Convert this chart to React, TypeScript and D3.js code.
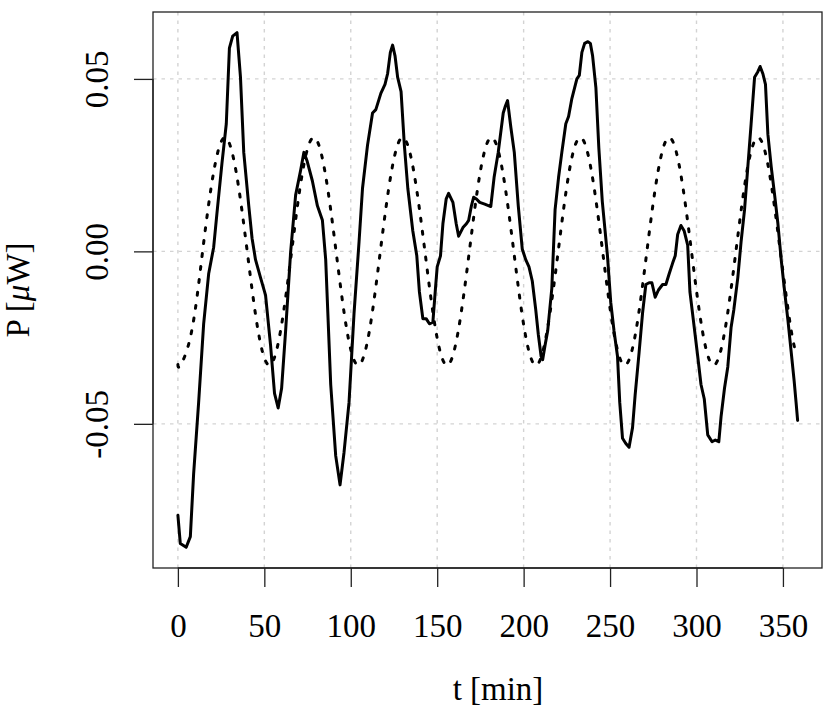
import React, { useEffect, useRef } from 'react';
import * as d3 from 'd3';

const solidT = [
  0, 1.4, 4.8, 7.2, 9.1, 12, 14.9, 17.8, 20.7, 22.6, 25.5, 28, 29.8, 31.7, 34.2, 36.2, 38.1, 41, 42.9, 44.9,
  47.8, 50.7, 53.6, 55.9, 58, 60, 62.3, 65.2, 68.1, 71, 72.9, 74.8, 77.8, 80.7, 83.6, 85.5, 88.4, 91.3, 93.8, 96.1,
  99, 101.9, 104.8, 106.8, 109.7, 112.6, 114.5, 117.4, 119.8, 121.3, 122.9, 124.2, 125.6, 127.1, 129.1, 131, 133, 135.9, 138.2, 139.7,
  141.7, 143.6, 145.5, 147.5, 149, 150, 151.9, 153.3, 155.2, 156.6, 159.1, 161, 162.4, 164.9, 166.9, 168.2, 169.8, 171.1, 172.7, 174.6,
  177.5, 181, 182.9, 185.3, 188.2, 189.5, 190.7, 192.6, 194.6, 196.9, 199.2, 201.2, 203.1, 205, 207, 208.5, 210.1, 211, 212.4, 213.9,
  216.3, 218.2, 220.2, 222.1, 224.4, 226, 227.9, 230.8, 232.2, 233.7, 235.3, 237.2, 238.6, 239.9, 241.8, 243.5, 245.5, 248.5, 250.4, 252.3,
  254.3, 255.6, 257.2, 259.1, 261, 263, 264.5, 266.8, 268.8, 270.7, 272.6, 274.2, 276.1, 278, 280.4, 282.3, 284.2, 286.2, 287.7, 289.1,
  291, 292.9, 294.9, 296.2, 298.2, 300.7, 302.6, 304.5, 306.5, 309, 310.9, 312.9, 314.2, 316.2, 318.1, 320, 321.6, 323.9, 325.8, 327.8,
  329.7, 331.6, 333.6, 335.5, 336.8, 338.4, 339.9, 341.3, 343.2, 345.2, 347.1, 349, 351, 352.9, 354.8, 356.5, 357.6, 358.5,
];
const solidP = [
  -0.0765, -0.0847, -0.0858, -0.0827, -0.0645, -0.0438, -0.021, -0.0065, 0.0012, 0.0111, 0.0256, 0.037, 0.0589, 0.0624, 0.0634, 0.0505, 0.0287, 0.0132, 0.0038, -0.0024,
  -0.0076, -0.0127, -0.0272, -0.0412, -0.0454, -0.0397, -0.0231, -0.0003, 0.0163, 0.0235, 0.0287, 0.0261, 0.0204, 0.0132, 0.009, -0.0024, -0.0386, -0.0593, -0.0677, -0.0583,
  -0.0438, -0.0179, 0.0028, 0.0183, 0.0308, 0.0401, 0.0411, 0.0458, 0.0484, 0.0515, 0.0577, 0.0598, 0.0567, 0.0505, 0.0463, 0.0308, 0.0183, 0.0059, -0.0013, -0.0117,
  -0.0195, -0.0195, -0.021, -0.0205, -0.0107, -0.0045, -0.0013, 0.008, 0.0152, 0.0168, 0.0142, 0.008, 0.0044, 0.0069, 0.008, 0.009, 0.0132, 0.0157, 0.0152, 0.0142,
  0.0137, 0.013, 0.0214, 0.0287, 0.0401, 0.0422, 0.0437, 0.036, 0.0287, 0.0132, 0.0007, -0.0024, -0.0045, -0.0086, -0.0169, -0.0241, -0.0304, -0.0314, -0.0272, -0.0231,
  -0.0107, 0.0121, 0.0214, 0.0287, 0.037, 0.0391, 0.0443, 0.05, 0.051, 0.0577, 0.0603, 0.0608, 0.0603, 0.0567, 0.0475, 0.03, 0.0145, -0.0013, -0.0148, -0.0231,
  -0.0304, -0.0438, -0.0542, -0.0557, -0.0568, -0.0511, -0.0417, -0.0293, -0.0179, -0.0096, -0.0091, -0.0091, -0.0133, -0.0112, -0.0096, -0.0096, -0.0065, -0.0034, -0.0013, 0.0049,
  0.0075, 0.0059, 0.0018, -0.0117, -0.02, -0.0304, -0.0386, -0.0428, -0.0532, -0.0552, -0.0547, -0.0552, -0.048, -0.0397, -0.0335, -0.0221, -0.0169, -0.0076, 0.0028, 0.0121,
  0.0246, 0.037, 0.0505, 0.0521, 0.0536, 0.0515, 0.0484, 0.0339, 0.0246, 0.0163, 0.008, -0.0024, -0.0117, -0.02, -0.0293, -0.0376, -0.0438, -0.049,
];

// reference oscillation (dotted line)
const refT = [
  0, 1.5, 7.9, 14.3, 20.8, 27.2, 33.6, 40.1, 46.5, 52.9, 59.3, 65.8, 72.2, 78.6, 85.0, 91.5, 97.9, 104.3, 110.7, 117.1,
  123.6, 130.0, 136.4, 142.9, 149.3, 155.7, 162.1, 168.6, 175.0, 181.4, 187.8, 194.3, 200.7, 207.1, 213.5, 220.0, 226.4, 232.8, 239.2, 245.7,
  252.1, 258.5, 264.9, 271.3, 277.8, 284.2, 290.6, 297.1, 303.5, 309.9, 316.3, 322.8, 329.2, 335.6, 342.0, 348.5, 354.9, 358.5,
];
const refP = [
  -0.0328, -0.033, -0.0233, 0, 0.0233, 0.033, 0.0233, 0, -0.0233, -0.033, -0.0233, 0, 0.0233, 0.033, 0.0233, 0, -0.0233, -0.033, -0.0233, 0,
  0.0233, 0.033, 0.0233, 0, -0.0233, -0.033, -0.0233, 0, 0.0233, 0.033, 0.0233, 0, -0.0233, -0.033, -0.0233, 0, 0.0233, 0.033, 0.0233, 0,
  -0.0233, -0.033, -0.0233, 0, 0.0233, 0.033, 0.0233, 0, -0.0233, -0.033, -0.0233, 0, 0.0233, 0.033, 0.0233, 0, -0.0233, -0.0302,
];

const xTicks = [0, 50, 100, 150, 200, 250, 300, 350];
const yTicks = [-0.05, 0, 0.05];
const yTickLabels = ['-0.05', '0.00', '0.05'];

const FONT = '"Liberation Serif", "DejaVu Serif", serif';

const App: React.FC = () => {
  const chartRef = useRef<SVGSVGElement | null>(null);

  useEffect(() => {
    if (!chartRef.current) return;

    const width = 831;
    const height = 717;
    const box = { left: 153, right: 822, top: 12, bottom: 568 };

    const svg = d3.select(chartRef.current)
      .attr('width', width)
      .attr('height', height)
      .attr('viewBox', `0 0 ${width} ${height}`);

    svg.selectAll('*').remove();

    svg.append('rect')
      .attr('width', width)
      .attr('height', height)
      .attr('fill', '#fff');

    const x = d3.scaleLinear().domain([-14.4, 372.6]).range([box.left, box.right]);
    const y = d3.scaleLinear().domain([-0.0918, 0.0694]).range([box.bottom, box.top]);

    // grid
    const grid = svg.append('g')
      .attr('stroke', '#d3d3d3')
      .attr('stroke-width', 1.4)
      .attr('stroke-dasharray', '3.5,5');
    grid.selectAll('line.v')
      .data(xTicks)
      .join('line')
      .attr('class', 'v')
      .attr('x1', d => x(d)).attr('x2', d => x(d))
      .attr('y1', box.top).attr('y2', box.bottom);
    grid.selectAll('line.h')
      .data(yTicks)
      .join('line')
      .attr('class', 'h')
      .attr('x1', box.left).attr('x2', box.right)
      .attr('y1', d => y(d)).attr('y2', d => y(d));

    // series
    const solidLine = d3.line<number>()
      .x((_, i) => x(solidT[i]))
      .y(d => y(d));
    svg.append('path')
      .attr('d', solidLine(solidP))
      .attr('fill', 'none')
      .attr('stroke', '#000')
      .attr('stroke-width', 3)
      .attr('stroke-linejoin', 'round')
      .attr('stroke-linecap', 'round');

    const refLine = d3.line<number>()
      .x((_, i) => x(refT[i]))
      .y(d => y(d))
      .curve(d3.curveNatural);
    svg.append('path')
      .attr('d', refLine(refP))
      .attr('fill', 'none')
      .attr('stroke', '#000')
      .attr('stroke-width', 3)
      .attr('stroke-dasharray', '3,10')
      .attr('stroke-linecap', 'round');

    // box
    svg.append('rect')
      .attr('x', box.left)
      .attr('y', box.top)
      .attr('width', box.right - box.left)
      .attr('height', box.bottom - box.top)
      .attr('fill', 'none')
      .attr('stroke', '#222')
      .attr('stroke-width', 1.3);

    // x axis
    svg.append('g')
      .attr('transform', `translate(0,${box.bottom})`)
      .call(d3.axisBottom(x).tickValues(xTicks).tickSize(19).tickFormat(d => String(d)))
      .call(g => g.select('.domain').attr('d', `M${x(0)},0H${x(350)}`).attr('stroke', '#222').attr('stroke-width', 1.3))
      .call(g => g.selectAll('.tick line').attr('stroke', '#222').attr('stroke-width', 1.3))
      .call(g => g.selectAll('.tick text')
        .attr('y', 69)
        .attr('dy', 0)
        .attr('fill', '#000')
        .attr('font-size', 33)
        .attr('font-family', FONT));

    // y axis
    svg.append('g')
      .attr('transform', `translate(${box.left},0)`)
      .call(d3.axisLeft(y).tickValues(yTicks).tickSize(19).tickFormat((_, i) => yTickLabels[i]))
      .call(g => g.select('.domain').attr('d', `M0,${y(-0.05)}V${y(0.05)}`).attr('stroke', '#222').attr('stroke-width', 1.3))
      .call(g => g.selectAll('.tick line').attr('stroke', '#222').attr('stroke-width', 1.3))
      .call(g => g.selectAll('.tick text')
        .attr('transform', 'rotate(-90)')
        .attr('x', 0)
        .attr('y', -45)
        .attr('dy', 0)
        .attr('text-anchor', 'middle')
        .attr('fill', '#000')
        .attr('font-size', 33)
        .attr('font-family', FONT));

    // axis titles
    svg.append('text')
      .attr('x', 498)
      .attr('y', 700)
      .attr('text-anchor', 'middle')
      .attr('fill', '#000')
      .attr('font-size', 33)
      .attr('font-family', FONT)
      .text('t [min]');

    const yTitle = svg.append('text')
      .attr('transform', `translate(29,${(box.top + box.bottom) / 2}) rotate(-90)`)
      .attr('text-anchor', 'middle')
      .attr('fill', '#000')
      .attr('font-size', 33)
      .attr('font-family', FONT);
    yTitle.append('tspan').text('P [');
    yTitle.append('tspan').attr('font-style', 'italic').text('\u03bc');
    yTitle.append('tspan').text('W]');
  }, []);

  return <svg ref={chartRef} style={{ position: 'absolute', left: 0, top: 0 }}></svg>;
};

export default App;
